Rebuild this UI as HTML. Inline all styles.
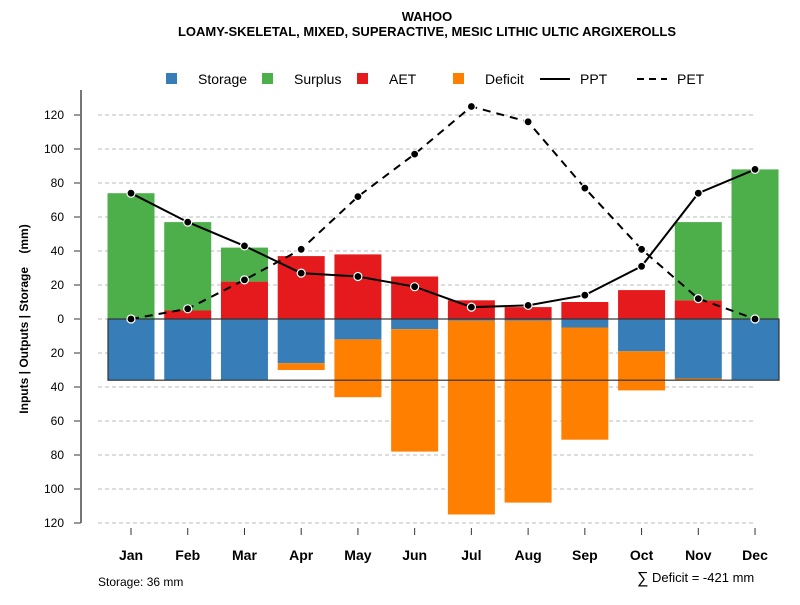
<!DOCTYPE html>
<html><head><meta charset="utf-8"><style>
body{margin:0;background:#fff}
svg{font-family:"Liberation Sans",sans-serif}
</style></head><body>
<svg id="chart" width="800" height="600" xmlns="http://www.w3.org/2000/svg">
<text x="427" y="21" text-anchor="middle" font-size="13" font-weight="bold">WAHOO</text>
<text x="427" y="36" text-anchor="middle" font-size="13" font-weight="bold">LOAMY-SKELETAL, MIXED, SUPERACTIVE, MESIC LITHIC ULTIC ARGIXEROLLS</text>
<g>
<rect x="166" y="73" width="11" height="11" fill="#377EB8"/>
<text x="198" y="84" font-size="14">Storage</text>
<rect x="262" y="73" width="11" height="11" fill="#4DAF4A"/>
<text x="294" y="84" font-size="14">Surplus</text>
<rect x="357" y="73" width="11" height="11" fill="#E41A1C"/>
<text x="389" y="84" font-size="14">AET</text>
<rect x="453" y="73" width="11" height="11" fill="#FF7F00"/>
<text x="485" y="84" font-size="14">Deficit</text>
<line x1="540" y1="79" x2="570" y2="79" stroke="#000" stroke-width="2"/>
<text x="580" y="84" font-size="14">PPT</text>
<line x1="637" y1="79" x2="667" y2="79" stroke="#000" stroke-width="2" stroke-dasharray="7,5"/>
<text x="677" y="84" font-size="14">PET</text>
</g>
<text transform="translate(28,319) rotate(-90)" text-anchor="middle" font-size="12" font-weight="bold">Inputs | Outputs | Storage&#160;&#160;&#160;&#160;(mm)</text>
<g id="grid"></g><g id="bars"></g><g id="lines"></g><g id="axes"></g>
<text x="98" y="586" font-size="12">Storage: 36 mm</text>
<text x="637" y="583" font-size="16">∑</text>
<text x="652" y="582" font-size="13">Deficit = -421 mm</text>
</svg>
<script>
const months=["Jan","Feb","Mar","Apr","May","Jun","Jul","Aug","Sep","Oct","Nov","Dec"];
const storage=[36,36,36,26,12,6,1,1,5,19,35,36];
const deficit=[0,0,0,4,34,72,114,107,66,23,1,0];
const aet=[0,5,22,37,38,25,11,7,10,17,11,0];
const surplus=[74,52,20,0,0,0,0,0,0,0,46,88];
const ppt=[74,57,43,27,25,19,7,8,14,31,74,88];
const pet=[0,6,23,41,72,97,125,116,77,41,12,0];
const yTicks=[-120,-100,-80,-60,-40,-20,0,20,40,60,80,100,120];
const maxStorage=36;
const NS="http://www.w3.org/2000/svg";
const y=v=>319-v*1.7;
const x=i=>131+i*56.73;
const bw=47;
function mk(tag,attrs,parent){const e=document.createElementNS(NS,tag);for(const k in attrs)e.setAttribute(k,attrs[k]);document.getElementById(parent).appendChild(e);return e;}
const axes="axes";
yTicks.forEach(t=>{
 const g=mk("line",{x1:98,x2:755,y1:y(t),y2:y(t),stroke:"#bbb","stroke-dasharray":"4,3"},"grid");
 
 
 const tk=mk("line",{x1:74,x2:81,y1:y(t),y2:y(t),stroke:"#333"},axes);
 
 
 const tl=mk("text",{x:64,y:y(t)+4,"text-anchor":"end","font-size":12},axes);
 tl.textContent=Math.abs(t);
 
 
});
const ax=mk("line",{x1:81,x2:81,y1:90,y2:523,stroke:"#777","stroke-width":2},axes);


months.forEach((m,i)=>{
 const cx=x(i),l=cx-bw/2;
 const r1=mk("rect",{x:l,y:y(0),width:bw,height:storage[i]*1.7,fill:"#377EB8"},"bars");
 
 
 const r2=mk("rect",{x:l,y:y(-storage[i]),width:bw,height:deficit[i]*1.7,fill:"#FF7F00"},"bars");
 
 
 const r3=mk("rect",{x:l,y:y(aet[i]),width:bw,height:aet[i]*1.7,fill:"#E41A1C"},"bars");
 
 
 const r4=mk("rect",{x:l,y:y(aet[i]+surplus[i]),width:bw,height:surplus[i]*1.7,fill:"#4DAF4A"},"bars");
 
 
 const tk=mk("line",{x1:cx,x2:cx,y1:528,y2:535,stroke:"#333"},axes);
 
 
 const tl=mk("text",{x:cx,y:560,"text-anchor":"middle","font-size":14,"font-weight":"bold"},axes);
 tl.textContent=m;
 
 
});
const box=mk("rect",{x:108,y:y(0),width:671,height:maxStorage*1.7,fill:"none",stroke:"#333","stroke-width":1.2},"bars");


function series(vals,name,dash){
 const p=mk("polyline",{points:vals.map((v,i)=>x(i)+","+y(v)).join(" "),fill:"none",stroke:"#000","stroke-width":2,"stroke-dasharray":dash},"lines");
 
 
 vals.forEach((v,i)=>{
  const c=mk("circle",{cx:x(i),cy:y(v),r:4,fill:"#000",stroke:"#fff","stroke-width":1.2},"lines");
  
  
 });
}
series(ppt,"ppt","none");
series(pet,"pet","8,6");
</script>
</body></html>
